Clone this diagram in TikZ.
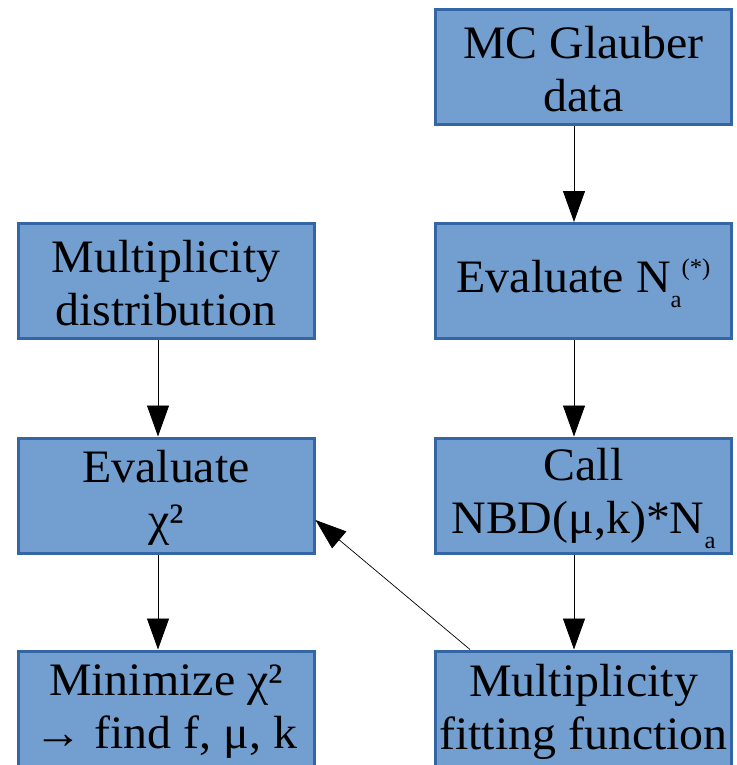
\documentclass[tikz,border=0pt]{standalone}
\usepackage{fontspec}
\setmainfont{Liberation Serif}[FakeStretch=1.03]
\usetikzlibrary{arrows.meta}
\definecolor{boxfill}{HTML}{729FCF}
\definecolor{boxline}{HTML}{3465A4}
\newcommand{\mysub}[1]{\raisebox{-15pt}{\fontsize{24}{24}\selectfont #1}}
\newcommand{\mysup}[1]{\raisebox{17pt}{\fontsize{24}{24}\selectfont #1}}
\begin{document}
\begin{tikzpicture}[x=1pt,y=-1pt,
  box/.style={draw=boxline, fill=boxfill, line width=3pt, minimum width=296pt,
    minimum height=115pt, inner sep=0pt},
  txt/.style={inner sep=0pt, align=center, font=\fontsize{46.5}{53}\selectfont},
  flow/.style={-{Triangle[width=22pt,length=31pt]}, line width=0.9pt}]
\useasboundingbox (0,0) rectangle (736,765);
\node[box] (mc) at (583.5,67) {};
\node[box] (ev) at (583.5,281) {};
\node[box] (call) at (583.5,495.5) {};
\node[box] (fit) at (583.5,708.5) {};
\node[box] (md) at (166,281) {};
\node[box] (chi) at (166,495.5) {};
\node[box] (min) at (166,708.5) {};
\node[txt] (mct) at ([yshift=-2.5pt]mc.center) {MC Glauber\\data};
\node[txt] (evt) at ([yshift=-2pt]ev.center) {Evaluate N\mysub{a}\mysup{(*)}};
\node[txt] (callt) at ([yshift=-2.5pt]call.center) {Call\\NBD(μ,k)*N\mysub{a}};
\node[txt] (fitt) at ([yshift=-3.5pt]fit.center) {Multiplicity\\fitting function};
\node[txt] (mdt) at ([yshift=-2.5pt]md.center) {Multiplicity\\distribution};
\node[txt] (chit) at ([yshift=-2.5pt]chi.center) {Evaluate\\χ²};
\node[txt] (mint) at ([yshift=-3.5pt]min.center) {Minimize χ²\\→ find f, μ, k};
\draw[flow] ([xshift=-9.5pt]mc.south) -- ([xshift=-9.5pt]ev.north);
\draw[flow] ([xshift=-9.5pt]ev.south) -- ([xshift=-9.5pt]call.north);
\draw[flow] ([xshift=-9.5pt]call.south) -- ([xshift=-9.5pt]fit.north);
\draw[flow] ([xshift=-8pt]md.south) -- ([xshift=-8pt]chi.north);
\draw[flow] ([xshift=-8pt]chi.south) -- ([xshift=-8pt]min.north);
\draw[flow, line width=0.7pt] ([xshift=36pt]fit.north west) -- ([yshift=-24.5pt]chi.east);
\end{tikzpicture}
\end{document}
